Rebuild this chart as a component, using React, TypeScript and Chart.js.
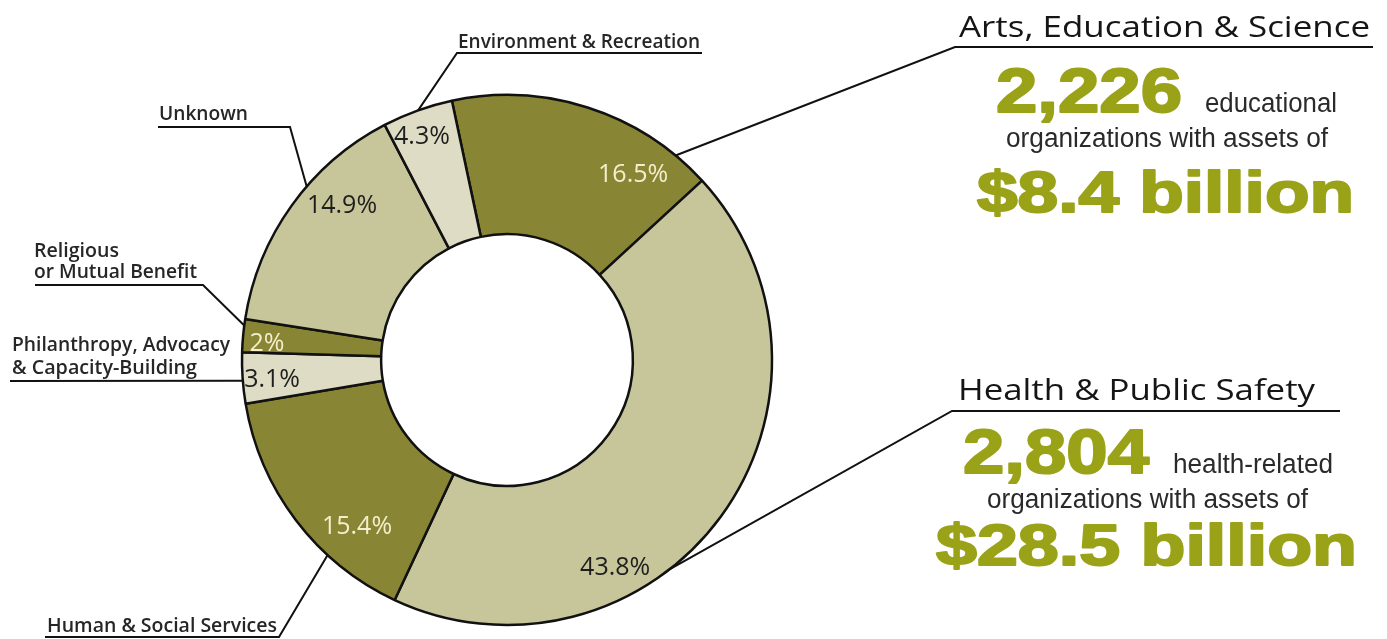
import React, { useEffect, useRef } from 'react';
import { Chart, registerables } from 'chart.js';

Chart.register(...registerables);

// ---------- DATA ----------
const categoryLines: string[][] = [
  ['Arts, Education & Science'],
  ['Health & Public Safety'],
  ['Human & Social Services'],
  ['Philanthropy, Advocacy', '& Capacity-Building'],
  ['Religious', 'or Mutual Benefit'],
  ['Unknown'],
  ['Environment & Recreation'],
];
const categories = categoryLines.map((l) => l.join(' '));
const shares = [16.5, 43.8, 15.4, 3.1, 2, 14.9, 4.3];
const shareLabels = ['16.5%', '43.8%', '15.4%', '3.1%', '2%', '14.9%', '4.3%'];

const orgCounts = ['2,226', '2,804'];
const orgKinds = ['educational', 'health-related'];
const assetLine = 'organizations with assets of';
const assetTotals = ['$8.4 billion', '$28.5 billion'];

// ---------- STYLES / LAYOUT ----------
const DARK = '#888534';
const MID = '#c7c69a';
const LIGHT = '#dedcc4';
const GREEN = '#9aa218';
const sliceColors = [DARK, MID, DARK, LIGHT, DARK, MID, LIGHT];
const pctColors = ['#f3efcc', '#1e1e1e', '#f3efcc', '#1e1e1e', '#f3efcc', '#1e1e1e', '#1e1e1e'];
// polar position of percentage labels: [degrees clockwise from top, fraction of outer radius]
const pctPolar = [
  [34.0, 0.851], [152.3, 0.878], [222.3, 0.841], [265.6, 0.889],
  [274.3, 0.908], [313.4, 0.857], [339.3, 0.908],
];
// angle on the outer edge where each leader meets the ring
const leaderAngle = [39.5, 142.3, 222.6, 265.5, 277.5, 310.9, 340.4];
// underline / elbow points (page px) before the leader reaches the ring
const leaderPath: number[][][] = [
  [[1373, 47], [955, 47]],
  [[1340, 411], [952, 411]],
  [[45, 637], [279, 637]],
  [[10, 381]],
  [[35, 285], [203, 285]],
  [[158, 127], [290, 127]],
  [[702, 53], [457, 53]],
];
// position of each label line: [x, baseline, width]
const labelLayout: number[][][] = [
  [[959, 37, 411]],
  [[958, 400, 357]],
  [[47, 632, 230]],
  [[12, 351, 218], [12, 374, 185]],
  [[34, 257, 85], [34, 278, 163]],
  [[159, 120, 89]],
  [[458, 48, 242]],
];

type TextSpec = { t: string; x: number; y: number; w: number; size: number; font: string; weight: string; color: string; heavy?: number };

const SANS = '"Open Sans", "Noto Sans", sans-serif';
const ARIAL = '"Liberation Sans", Arial, sans-serif';

const buildTexts = (): TextSpec[] => {
  const out: TextSpec[] = [];
  categoryLines.forEach((lines, i) => {
    lines.forEach((t, j) => {
      const [x, y, w] = labelLayout[i][j];
      const head = i < 2;
      out.push({ t, x, y, w, size: head ? 30 : 20, font: SANS, weight: head ? '400' : '600', color: head ? '#151515' : '#262626' });
    });
  });
  const blocks = [
    { count: [995, 112, 188], kind: [1205, 112, 132], line: [1006, 147, 322], total: [976, 212, 379] },
    { count: [962, 473, 188], kind: [1173, 473, 160], line: [987, 508, 321], total: [935, 565, 423] },
  ];
  blocks.forEach((b, i) => {
    out.push({ t: orgCounts[i], x: b.count[0], y: b.count[1], w: b.count[2], size: 63, font: ARIAL, weight: '700', color: GREEN, heavy: 2 });
    out.push({ t: orgKinds[i], x: b.kind[0], y: b.kind[1], w: b.kind[2], size: 27, font: ARIAL, weight: '400', color: '#2a2a2a' });
    out.push({ t: assetLine, x: b.line[0], y: b.line[1], w: b.line[2], size: 27, font: ARIAL, weight: '400', color: '#2a2a2a' });
    out.push({ t: assetTotals[i], x: b.total[0], y: b.total[1], w: b.total[2], size: 57, font: ARIAL, weight: '700', color: GREEN, heavy: 2 });
  });
  return out;
};

const rad = (d: number) => (d * Math.PI) / 180;

const calloutPlugin = {
  id: 'callouts',
  afterDatasetsDraw(chart: any) {
    const ctx: CanvasRenderingContext2D = chart.ctx;
    const meta = chart.getDatasetMeta(0);
    const arc0 = meta.data[0] as any;
    const cx = arc0.x;
    const cy = arc0.y;
    const R = arc0.outerRadius;

    // percentage labels
    ctx.save();
    ctx.textAlign = 'center';
    ctx.textBaseline = 'alphabetic';
    ctx.font = `400 25px ${SANS}`;
    shareLabels.forEach((lab, i) => {
      const [a, f] = pctPolar[i];
      const px = cx + f * R * Math.sin(rad(a));
      const py = cy - f * R * Math.cos(rad(a));
      ctx.fillStyle = pctColors[i];
      ctx.fillText(lab, px, py + 25 * 0.357);
    });
    ctx.restore();

    // leaders + underlines
    ctx.save();
    ctx.strokeStyle = '#111';
    ctx.lineWidth = 2;
    ctx.lineJoin = 'miter';
    leaderPath.forEach((pts, i) => {
      const a = leaderAngle[i];
      const ex = cx + R * Math.sin(rad(a));
      const ey = cy - R * Math.cos(rad(a));
      ctx.beginPath();
      ctx.moveTo(pts[0][0], pts[0][1]);
      for (let k = 1; k < pts.length; k++) ctx.lineTo(pts[k][0], pts[k][1]);
      ctx.lineTo(ex, ey);
      ctx.stroke();
    });
    ctx.restore();

    // texts
    buildTexts().forEach((s) => {
      ctx.save();
      ctx.font = `${s.weight} ${s.size}px ${s.font}`;
      ctx.textAlign = 'left';
      ctx.textBaseline = 'alphabetic';
      ctx.fillStyle = s.color;
      const hv = s.heavy || 0;
      const w0 = ctx.measureText(s.t).width || 1;
      const sx = (s.w - hv) / w0;
      ctx.translate(s.x + hv / 2, s.y);
      ctx.scale(sx, 1);
      ctx.fillText(s.t, 0, 0);
      if (hv) {
        ctx.strokeStyle = s.color;
        ctx.lineWidth = hv;
        ctx.lineJoin = 'round';
        ctx.strokeText(s.t, 0, 0);
      }
      ctx.restore();
    });
  },
};

export default function App() {
  const ref = useRef<HTMLCanvasElement | null>(null);
  useEffect(() => {
    if (!ref.current) return;
    const chart = new Chart(ref.current, {
      type: 'doughnut',
      data: {
        labels: categories,
        datasets: [
          {
            data: shares,
            backgroundColor: sliceColors,
            borderColor: '#111',
            borderWidth: 2.5,
          },
        ],
      },
      options: {
        animation: false,
        responsive: true,
        maintainAspectRatio: false,
        events: [],
        rotation: -12,
        radius: 265,
        cutout: '47.5%',
        layout: { padding: { left: 0, right: 373, top: 81, bottom: 0 } },
        plugins: { legend: { display: false }, tooltip: { enabled: false }, title: { display: false } },
      } as any,
      plugins: [calloutPlugin],
    });
    return () => chart.destroy();
  }, []);
  return (
    <div style={{ position: 'absolute', left: 0, top: 0, width: 1387, height: 639, background: '#fff', overflow: 'hidden' }}>
      <canvas ref={ref} />
    </div>
  );
}
